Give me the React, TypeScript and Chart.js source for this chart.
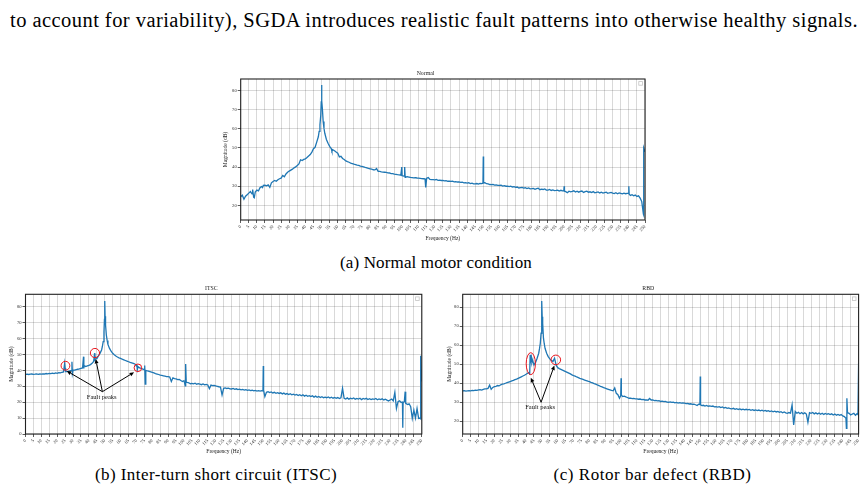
import React, { useEffect, useLayoutEffect, useRef } from "react";
import { Chart, registerables } from "chart.js";

Chart.register(...registerables);

const SERIF = '"Liberation Serif", "Times New Roman", serif';
const LINE_BLUE = "#1f77b4";

// ---------- tick labels ----------
const FREQ_TICKS = [
  0, 5, 10, 15, 20, 25, 30, 35, 40, 45, 50, 55, 60, 65, 70, 75, 80, 85, 90, 95,
  100, 105, 110, 115, 120, 125, 130, 135, 140, 145, 150, 155, 160, 165, 170, 175,
  180, 185, 190, 195, 200, 205, 210, 215, 220, 225, 230, 235, 240, 245, 250,
];
const NORMAL_Y_TICKS = [20, 30, 40, 50, 60, 70, 80];
const ITSC_Y_TICKS = [0, 10, 20, 30, 40, 50, 60, 70, 80];
const RBD_Y_TICKS = [20, 30, 40, 50, 60, 70, 80];

// ---------- series: magnitude (dB) at 0..250 Hz, 1 Hz steps ----------
const NORMAL_DB = [
  24.5, 25.3, 23.2, 24.8, 25.6, 26.4, 27.2, 26.0, 24.3, 27.0,
  28.0, 27.6, 29.3, 29.8, 30.4, 30.5, 30.2, 30.7, 29.4, 31.8,
  32.5, 33.0, 32.6, 33.4, 33.9, 34.2, 35.6, 34.9, 36.4, 37.3,
  37.9, 38.4, 38.9, 39.6, 40.1, 40.8, 41.6, 43.8, 43.4, 44.0,
  44.3, 45.0, 45.8, 46.5, 47.8, 49.6, 50.3, 53.0, 55.8, 62.0,
  82.8, 63.7, 57.6, 54.4, 52.4, 50.8, 49.6, 49.0, 48.5, 47.8,
  47.2, 45.3, 45.6, 44.5, 43.9, 43.2, 42.8, 42.5, 42.1, 41.8,
  41.5, 41.3, 41.0, 40.9, 40.5, 40.3, 40.1, 39.8, 39.6, 39.3,
  39.1, 38.9, 38.6, 38.5, 39.2, 37.8, 37.7, 37.5, 37.4, 37.3,
  37.2, 37.0, 36.9, 36.6, 36.6, 36.3, 36.2, 36.0, 35.9, 35.7,
  35.5, 35.3, 34.8, 35.0, 34.8, 34.6, 34.5, 34.4, 34.5, 34.3,
  34.2, 34.1, 34.0, 33.9, 33.8, 34.2, 34.5, 33.6, 33.5, 33.4,
  33.3, 33.5, 33.1, 33.2, 33.0, 33.1, 32.8, 32.9, 32.6, 32.7,
  32.5, 32.6, 32.3, 32.4, 32.2, 32.3, 32.0, 32.1, 31.8, 31.9,
  31.6, 31.8, 31.4, 31.6, 31.2, 31.2, 31.4, 31.1, 31.5, 31.4,
  45.5, 31.8, 31.3, 31.2, 30.9, 30.8, 31.0, 30.6, 30.7, 30.4,
  30.4, 30.5, 30.1, 30.3, 30.0, 30.1, 29.8, 30.0, 29.6, 29.8,
  29.4, 29.6, 29.1, 29.3, 29.4, 29.0, 29.2, 28.8, 29.1, 28.6,
  28.7, 28.9, 28.4, 28.7, 29.0, 28.2, 28.5, 28.3, 28.6, 28.0,
  28.0, 28.3, 27.8, 28.1, 27.7, 27.8, 28.0, 27.5, 27.9, 27.6,
  30.0, 27.2, 26.6, 27.4, 27.1, 27.3, 27.6, 27.0, 27.4, 26.9,
  27.3, 27.5, 26.8, 27.2, 27.4, 26.9, 27.1, 26.7, 27.2, 26.6,
  26.8, 27.0, 26.5, 26.9, 26.4, 26.7, 26.9, 26.3, 26.6, 26.8,
  26.4, 26.2, 26.6, 26.1, 26.5, 26.3, 26.0, 26.4, 26.1, 26.3,
  30.0, 25.2, 25.6, 25.0, 25.4, 24.7, 25.0, 23.8, 22.0, 15.5,
  48.0,
];
// narrow features between the 1 Hz samples: [Hz, dB]
const NORMAL_SPIKES = [
  [7.4, 28.3], [8.4, 24.0], [13.5, 29.3], [48.5, 58.6], [49.5, 67.0], [49.8, 74.0],
  [50.2, 74.5], [50.5, 70.5], [51.5, 60.2], [56.4, 48.3], [99.6, 40.0], [99.8, 35.5],
  [101.4, 40.0], [101.7, 34.6], [114.4, 29.4], [149.8, 31.6], [150.2, 31.7],
  [199.8, 27.6], [200.2, 27.4], [239.8, 26.3], [240.2, 25.8], [249.1, 15.0],
  [249.3, 50.0],
];

const ITSC_DB = [
  37.5, 37.6, 37.4, 37.6, 37.7, 37.5, 37.6, 37.8, 37.5, 37.7,
  37.6, 37.8, 37.7, 38.0, 37.8, 38.1, 38.0, 38.3, 38.0, 38.4,
  38.1, 38.6, 38.4, 38.8, 39.0, 41.5, 39.2, 39.3, 39.6, 39.9,
  40.2, 40.1, 40.4, 40.7, 40.9, 41.3, 41.5, 43.0, 42.4, 42.8,
  43.1, 43.6, 44.4, 45.6, 48.5, 47.4, 49.1, 50.7, 52.8, 58.0,
  83.6, 62.2, 56.3, 53.8, 52.0, 50.7, 49.8, 49.0, 48.4, 47.9,
  47.5, 47.0, 46.6, 46.2, 45.8, 45.4, 45.0, 44.7, 44.4, 44.0,
  42.6, 42.3, 41.5, 41.2, 40.8, 40.4, 40.0, 39.6, 39.3, 39.0,
  38.7, 38.4, 38.0, 37.7, 37.4, 37.0, 36.8, 36.6, 36.4, 36.1,
  36.0, 35.8, 33.0, 35.3, 34.8, 34.6, 34.2, 34.3, 33.6, 33.0,
  33.5, 32.8, 32.4, 32.2, 31.6, 31.8, 31.5, 31.9, 31.3, 31.6,
  31.4, 31.0, 31.5, 30.9, 31.2, 30.8, 28.5, 30.7, 30.4, 30.6,
  30.2, 30.0, 29.7, 29.5, 24.5, 28.7, 29.0, 28.6, 28.8, 28.4,
  28.3, 28.6, 28.1, 28.4, 27.9, 28.2, 27.8, 28.0, 27.6, 27.9,
  27.4, 27.7, 27.3, 27.5, 27.1, 27.4, 27.0, 27.3, 27.0, 27.2,
  42.7, 23.5, 26.2, 26.6, 26.0, 26.4, 25.8, 26.2, 25.6, 26.0,
  25.5, 25.9, 25.2, 25.7, 25.0, 25.4, 24.8, 25.3, 24.6, 25.0,
  24.5, 24.9, 24.2, 24.7, 24.0, 24.6, 23.8, 24.4, 23.7, 24.1,
  23.5, 24.0, 23.2, 23.8, 23.1, 23.6, 22.9, 23.4, 22.8, 23.2,
  22.8, 23.3, 22.6, 23.1, 22.5, 23.0, 22.4, 22.9, 22.3, 22.8,
  28.7, 22.4, 22.0, 22.7, 21.9, 22.5, 22.1, 22.6, 21.8, 22.4,
  22.0, 22.5, 21.6, 22.3, 21.9, 22.4, 21.7, 22.2, 21.6, 22.1,
  21.8, 22.3, 21.5, 22.0, 21.6, 22.1, 21.4, 21.9, 21.3, 20.8,
  21.4, 22.0, 20.9, 26.2, 16.0, 20.3, 20.8, 19.8, 4.0, 20.5,
  19.3, 18.5, 19.0, 17.2, 9.8, 15.0, 10.0, 16.0, 9.8, 10.0,
  33.0,
];
const ITSC_SPIKES = [
  [24.7, 44.4], [25.3, 39.2], [29.3, 45.4], [29.6, 38.2], [36.6, 48.6], [36.8, 41.2],
  [43.6, 50.8], [43.8, 45.8], [48.5, 55.0], [49.5, 64.3], [49.8, 72.0], [50.2, 74.0],
  [50.5, 68.5], [51.5, 58.8], [70.3, 43.6], [70.6, 40.6], [75.2, 43.0], [75.5, 31.4],
  [75.8, 39.8], [100.8, 30.2], [101.1, 44.0], [101.4, 32.6], [149.8, 27.0],
  [150.2, 27.5], [237.8, 20.0], [238.2, 19.5], [239.5, 26.6], [239.7, 19.6],
  [249.2, 9.6], [249.4, 49.2],
];

const RBD_DB = [
  36.0, 36.1, 35.9, 36.0, 36.1, 36.0, 36.2, 36.1, 36.4, 36.3,
  36.5, 36.6, 36.4, 36.8, 37.0, 37.0, 37.3, 39.0, 36.8, 37.8,
  38.2, 38.4, 38.8, 38.6, 39.2, 39.5, 39.7, 40.0, 40.3, 40.6,
  40.9, 41.2, 41.5, 41.9, 42.2, 42.6, 43.0, 43.4, 43.8, 44.2,
  44.7, 45.3, 45.8, 52.0, 52.3, 49.6, 51.0, 53.2, 55.8, 61.0,
  83.3, 63.7, 58.4, 55.8, 54.0, 52.8, 52.0, 51.4, 53.2, 49.5,
  48.2, 47.7, 47.3, 46.9, 46.5, 46.1, 45.7, 45.3, 44.9, 44.4,
  44.0, 43.7, 43.3, 43.0, 42.6, 42.3, 42.0, 41.7, 41.4, 41.1,
  40.9, 40.5, 40.2, 39.8, 39.5, 39.1, 38.8, 38.4, 38.1, 37.7,
  37.4, 37.1, 36.8, 36.5, 36.2, 36.0, 37.5, 34.7, 34.0, 32.1,
  42.6, 33.0, 33.2, 32.8, 32.5, 32.1, 32.2, 31.9, 32.0, 31.8,
  31.8, 31.6, 31.7, 31.4, 31.5, 31.2, 31.3, 31.1, 32.0, 31.2,
  31.2, 30.9, 31.0, 30.7, 30.8, 30.4, 30.6, 30.3, 30.4, 30.1,
  30.0, 30.2, 29.9, 30.0, 29.7, 29.9, 29.6, 29.8, 29.5, 29.6,
  29.5, 29.3, 29.4, 29.1, 29.2, 28.9, 29.0, 28.7, 28.3, 29.0,
  43.5, 28.2, 28.4, 28.0, 28.3, 27.9, 28.1, 27.8, 28.0, 27.6,
  27.7, 27.5, 27.7, 27.2, 27.5, 27.0, 27.3, 26.8, 27.0, 26.6,
  26.5, 26.8, 26.3, 26.6, 26.2, 26.5, 26.1, 26.4, 26.0, 26.3,
  26.0, 26.2, 25.8, 26.1, 25.7, 26.0, 25.6, 25.9, 25.5, 25.8,
  25.4, 25.7, 25.3, 25.6, 25.1, 25.4, 25.0, 25.3, 24.9, 25.2,
  24.7, 25.0, 24.5, 24.9, 24.4, 24.2, 24.6, 24.3, 28.6, 18.1,
  25.1, 24.2, 24.7, 24.0, 24.6, 23.9, 24.5, 23.8, 19.5, 24.5,
  24.2, 24.6, 23.9, 24.4, 23.8, 24.3, 23.7, 24.2, 23.6, 24.1,
  23.7, 24.0, 23.5, 23.9, 23.3, 23.8, 23.2, 23.6, 23.1, 23.5,
  22.8, 22.5, 21.6, 24.5, 24.2, 23.3, 23.8, 24.2, 23.2, 24.0,
  50.5,
];
const RBD_SPIKES = [
  [42.3, 44.5], [42.6, 55.0], [43.4, 53.5], [43.7, 51.2], [48.5, 58.2], [49.5, 66.3],
  [49.8, 73.5], [50.2, 75.0], [50.5, 71.6], [51.5, 60.8], [99.8, 33.5], [100.2, 33.8],
  [149.8, 28.8], [150.2, 28.6], [242.3, 16.3], [242.6, 32.1], [249.6, 23.5],
];

// ---------- annotations (data coordinates) ----------
type Mark = {
  circles: { x: number; y: number; rx: number; ry: number }[];
  label: { x: number; y: number; text: string };
  from: { x: number; y: number };
  to: { x: number; y: number }[];
};

const ITSC_MARKS: Mark = {
  circles: [
    { x: 25.2, y: 42.9, rx: 4.4, ry: 4.4 },
    { x: 43.8, y: 50.9, rx: 4.6, ry: 4.6 },
    { x: 70.9, y: 41.6, rx: 3.8, ry: 3.8 },
  ],
  label: { x: 48.1, y: 23.1, text: "Fault peaks" },
  from: { x: 48.5, y: 26.6 },
  to: [
    { x: 26.0, y: 39.6 },
    { x: 44.3, y: 47.1 },
    { x: 68.5, y: 38.8 },
  ],
};

const RBD_MARKS: Mark = {
  circles: [
    { x: 43.0, y: 50.3, rx: 4.6, ry: 11.0 },
    { x: 58.8, y: 52.3, rx: 4.8, ry: 4.8 },
  ],
  label: { x: 48.9, y: 27.5, text: "Fault peaks" },
  from: { x: 49.5, y: 30.0 },
  to: [
    { x: 43.0, y: 42.9 },
    { x: 57.9, y: 49.3 },
  ],
};

function buildPoints(base: number[], spikes: number[][]) {
  const pts = base.map((v, i) => ({ x: i, y: v }));
  spikes.forEach(([f, v]) => pts.push({ x: f, y: v }));
  pts.sort((a, b) => a.x - b.x);
  return pts;
}

function makeDecor(marks?: Mark) {
  return {
    id: "decor",
    afterDatasetsDraw(chart: any) {
      const { ctx, chartArea: a, scales } = chart;
      const xs = scales.x;
      const ys = scales.y;
      ctx.save();
      if (marks) {
        ctx.strokeStyle = "#000";
        ctx.fillStyle = "#000";
        ctx.lineWidth = 1;
        const fx = xs.getPixelForValue(marks.from.x);
        const fy = ys.getPixelForValue(marks.from.y);
        marks.to.forEach((t) => {
          const tx = xs.getPixelForValue(t.x);
          const ty = ys.getPixelForValue(t.y);
          const ang = Math.atan2(ty - fy, tx - fx);
          const head = 4.5;
          const hw = 2;
          const bx = tx - head * Math.cos(ang);
          const by = ty - head * Math.sin(ang);
          ctx.beginPath();
          ctx.moveTo(fx, fy);
          ctx.lineTo(bx, by);
          ctx.stroke();
          ctx.beginPath();
          ctx.moveTo(tx, ty);
          ctx.lineTo(bx + hw * Math.sin(ang), by - hw * Math.cos(ang));
          ctx.lineTo(bx - hw * Math.sin(ang), by + hw * Math.cos(ang));
          ctx.closePath();
          ctx.fill();
        });
        ctx.strokeStyle = "#e8141c";
        ctx.lineWidth = 1;
        marks.circles.forEach((c) => {
          ctx.beginPath();
          ctx.ellipse(xs.getPixelForValue(c.x), ys.getPixelForValue(c.y), c.rx, c.ry, 0, 0, Math.PI * 2);
          ctx.stroke();
        });
        ctx.fillStyle = "#111";
        ctx.font = `6.5px ${SERIF}`;
        ctx.textAlign = "center";
        ctx.textBaseline = "middle";
        ctx.fillText(marks.label.text, xs.getPixelForValue(marks.label.x), ys.getPixelForValue(marks.label.y));
      }
      // empty legend box
      ctx.fillStyle = "#fff";
      ctx.strokeStyle = "#c4c4c4";
      ctx.lineWidth = 0.8;
      ctx.fillRect(a.right - 6.2, a.top + 2.6, 3.6, 3.6);
      ctx.strokeRect(a.right - 6.2, a.top + 2.6, 3.6, 3.6);
      // frame
      ctx.strokeStyle = "#222";
      ctx.lineWidth = 1.1;
      ctx.strokeRect(a.left, a.top, a.right - a.left, a.bottom - a.top);
      ctx.restore();
    },
  };
}

type PanelProps = {
  title: string;
  base: number[];
  spikes: number[][];
  yTicks: number[];
  yMin: number;
  yMax: number;
  canvas: { left: number; top: number; width: number; height: number };
  plot: { L: number; T: number; R: number; B: number };
  yTitleX: number;
  xTitleY: number;
  marks?: Mark;
};

const TICK_FONT = 4.6;
const LABEL_FONT = 5.5;
const TITLE_FONT = 5.8;

function Panel(p: PanelProps) {
  const ref = useRef<HTMLCanvasElement>(null);
  useEffect(() => {
    if (!ref.current) return;
    const c = p.canvas;
    const pl = 1;
    const pb = 1;
    const titleH = TITLE_FONT * 1.2 + 2;
    const wy = p.plot.L - c.left - pl;
    const hx = c.top + c.height - pb - p.plot.B;
    const pt = p.plot.T - c.top - titleH;
    const pr = c.left + c.width - p.plot.R;
    const labLH = LABEL_FONT * 1.2;
    const yTitlePad = p.yTitleX - (c.left + pl) - labLH / 2;
    const xTitlePad = c.top + c.height - pb - p.xTitleY - labLH / 2;
    const grid = {
      color: "rgba(0,0,0,0.17)",
      lineWidth: 0.9,
      tickLength: 3,
      tickColor: "#333",
      tickWidth: 0.8,
    };
    const chart = new Chart(ref.current, {
      type: "line",
      data: {
        datasets: [
          {
            data: buildPoints(p.base, p.spikes),
            borderColor: LINE_BLUE,
            borderWidth: 1.3,
            pointRadius: 0,
            fill: false,
            tension: 0,
          },
        ],
      },
      plugins: [makeDecor(p.marks)],
      options: {
        animation: false,
        responsive: false,
        devicePixelRatio: 1,
        layout: { padding: { left: pl, top: pt, right: pr, bottom: pb } },
        plugins: {
          legend: { display: false },
          tooltip: { enabled: false },
          title: {
            display: true,
            text: p.title,
            color: "#222",
            font: { family: SERIF, size: TITLE_FONT, weight: "normal" },
            padding: { top: 0, bottom: 2 },
          },
        },
        scales: {
          x: {
            type: "linear",
            min: 0,
            max: 250,
            afterBuildTicks: (axis: any) => {
              axis.ticks = FREQ_TICKS.map((v) => ({ value: v }));
            },
            afterFit: (axis: any) => {
              axis.height = hx;
            },
            ticks: {
              autoSkip: false,
              minRotation: 45,
              maxRotation: 45,
              padding: 1,
              color: "#333",
              font: { family: SERIF, size: TICK_FONT },
            },
            grid,
            border: { display: false },
            title: {
              display: true,
              text: "Frequency (Hz)",
              color: "#222",
              font: { family: SERIF, size: LABEL_FONT },
              padding: { top: 0, bottom: xTitlePad },
            },
          },
          y: {
            type: "linear",
            min: p.yMin,
            max: p.yMax,
            afterBuildTicks: (axis: any) => {
              axis.ticks = p.yTicks.map((v) => ({ value: v }));
            },
            afterFit: (axis: any) => {
              axis.width = wy;
            },
            ticks: {
              padding: 1,
              color: "#333",
              font: { family: SERIF, size: TICK_FONT },
            },
            grid,
            border: { display: false },
            title: {
              display: true,
              text: "Magnitude (dB)",
              color: "#222",
              font: { family: SERIF, size: LABEL_FONT },
              padding: { top: yTitlePad, bottom: 0 },
            },
          },
        },
      },
    } as any);
    return () => chart.destroy();
  }, []);
  return (
    <canvas
      ref={ref}
      width={p.canvas.width}
      height={p.canvas.height}
      style={{
        position: "absolute",
        left: p.canvas.left,
        top: p.canvas.top,
        width: p.canvas.width,
        height: p.canvas.height,
      }}
    />
  );
}

function FitText({ text, cx, baseline, width, size }: { text: string; cx: number; baseline: number; width: number; size: number }) {
  const ref = useRef<HTMLSpanElement>(null);
  useLayoutEffect(() => {
    const el = ref.current;
    if (!el) return;
    el.style.letterSpacing = "0px";
    const w = el.getBoundingClientRect().width;
    el.style.letterSpacing = `${(width - w) / text.length}px`;
  }, [text, width]);
  return (
    <div
      style={{
        position: "absolute",
        left: cx - 500,
        width: 1000,
        top: baseline - 0.8375 * size,
        textAlign: "center",
        whiteSpace: "nowrap",
        fontFamily: SERIF,
        fontSize: size,
        lineHeight: `${size}px`,
        color: "#000",
      }}
    >
      <span ref={ref}>{text}</span>
    </div>
  );
}

export default function App() {
  return (
    <div
      style={{
        position: "fixed",
        left: 0,
        top: 0,
        width: 867,
        height: 490,
        background: "#fff",
        overflow: "hidden",
      }}
    >
      <FitText
        text="to account for variability), SGDA introduces realistic fault patterns into otherwise healthy signals."
        cx={434}
        baseline={27}
        width={848}
        size={20.5}
      />
      <Panel
        title="Normal"
        base={NORMAL_DB}
        spikes={NORMAL_SPIKES}
        yTicks={NORMAL_Y_TICKS}
        yMin={12.4}
        yMax={85.9}
        canvas={{ left: 205, top: 60, width: 450, height: 185 }}
        plot={{ L: 240.7, T: 79, R: 645, B: 220 }}
        yTitleX={226}
        xTitleY={238.3}
      />
      <FitText text="(a) Normal motor condition" cx={436} baseline={268.5} width={192} size={17} />
      <Panel
        title="ITSC"
        base={ITSC_DB}
        spikes={ITSC_SPIKES}
        yTicks={ITSC_Y_TICKS}
        yMin={0}
        yMax={87.8}
        canvas={{ left: 0, top: 280, width: 432, height: 178 }}
        plot={{ L: 25.5, T: 294.3, R: 421.8, B: 434 }}
        yTitleX={11.7}
        xTitleY={451.7}
        marks={ITSC_MARKS}
      />
      <Panel
        title="RBD"
        base={RBD_DB}
        spikes={RBD_SPIKES}
        yTicks={RBD_Y_TICKS}
        yMin={13.3}
        yMax={86.8}
        canvas={{ left: 437, top: 280, width: 430, height: 178 }}
        plot={{ L: 462.7, T: 294.3, R: 858.6, B: 434 }}
        yTitleX={450}
        xTitleY={451.7}
        marks={RBD_MARKS}
      />
      <FitText text="(b) Inter-turn short circuit (ITSC)" cx={216} baseline={480.5} width={242} size={17} />
      <FitText text="(c) Rotor bar defect (RBD)" cx={652.5} baseline={480.5} width={198} size={17} />
    </div>
  );
}
